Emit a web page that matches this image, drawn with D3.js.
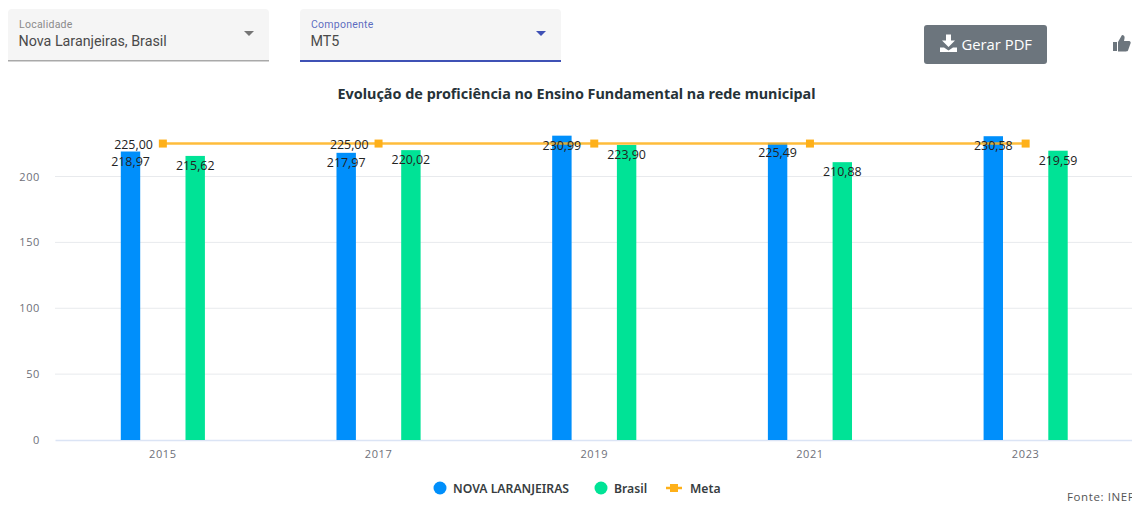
<!DOCTYPE html>
<html>
<head>
<meta charset="utf-8">
<script src="https://cdn.jsdelivr.net/npm/d3@7"></script>
<style>
  html, body { margin: 0; padding: 0; background: #fff; overflow: hidden; }
  svg { display: block; }
</style>
</head>
<body>
<div id="chart"></div>
<script>
var years = ["2015", "2017", "2019", "2021", "2023"];
var seriesNames = ["NOVA LARANJEIRAS", "Brasil"];
var novaLaranjeiras = [218.97, 217.97, 230.99, 225.49, 230.58];
var brasil = [215.62, 220.02, 223.90, 210.88, 219.59];
var meta = [225, 225, 225, 225, 225];
var metaLabelled = ["2015", "2017"];
var yTicks = [0, 50, 100, 150, 200];

var colors = { bar1: "#008ffb", bar2: "#00e396", meta: "#feb019" };
var fmt = function(v) { return v.toFixed(2).replace(".", ","); };

var width = 1132, height = 528;
var margin = { top: 0, left: 55, right: -1.5, bottom: 88 };

var svg = d3.select("#chart").append("svg")
  .attr("width", width)
  .attr("height", height);

// form controls above the chart
function selectBox(x, w, label, value, accent) {
  var g = svg.append("g").attr("transform", "translate(" + x + ",9)");
  g.append("path")
    .attr("d", "M0 52V4a4 4 0 0 1 4-4H" + (w - 4) + "a4 4 0 0 1 4 4V52Z")
    .attr("fill", "#f5f5f5");
  g.append("rect").attr("y", 51).attr("width", w).attr("height", accent ? 2 : 1.5)
    .attr("fill", accent || "#a9a9a9");
  g.append("text").attr("x", 11).attr("y", 19)
    .attr("font-family", "Roboto").attr("font-size", 10.5)
    .attr("letter-spacing", 0.25)
    .attr("fill", accent || "#8a8a8a").attr("fill-opacity", accent ? 0.85 : 1).text(label);
  g.append("text").attr("x", 10.5).attr("y", 37)
    .attr("font-family", "Roboto").attr("font-size", 14.3)
    .attr("fill", "#4a4a4a").text(value);
  g.append("path")
    .attr("d", "M" + (w - 25) + " 22h10l-5 5Z")
    .attr("fill", accent || "#757575");
}
selectBox(8, 261, "Localidade", "Nova Laranjeiras, Brasil", null);
selectBox(300, 261, "Componente", "MT5", "#3f51b5");

var btn = svg.append("g").attr("transform", "translate(924,25)");
btn.append("rect").attr("width", 123).attr("height", 39).attr("rx", 3).attr("fill", "#6c757d");
btn.append("path")
  .attr("d", "M22 9.5h5v6h4l-6.5 6.5-6.5-6.5h4ZM16 22.5h4l4.5 3 4.5-3H33V27H16Z")
  .attr("fill", "#fff");
btn.append("text").attr("x", 37.5).attr("y", 24.5)
  .attr("font-family", "Open Sans, Noto Sans").attr("font-size", 14.8)
  .attr("fill", "#fff").text("Gerar PDF");

svg.append("path")
  .attr("transform", "translate(1113,35)")
  .attr("d", "M0 7h4v9H0ZM5 7l4-7c2 0 3 1.5 2.5 3.5L11 6h5c1.5 0 2 1.5 1.5 2.5L15 15.5c-.4.8-1 .9-2 .9H5Z")
  .attr("fill", "#6c757d");

svg.append("text")
  .attr("x", 576.5).attr("y", 99)
  .attr("text-anchor", "middle")
  .attr("font-family", "Noto Sans").attr("font-size", 14.4).attr("font-weight", 700)
  .attr("fill", "#263238")
  .text("Evolução de proficiência no Ensino Fundamental na rede municipal");

// scales
var x = d3.scaleBand().domain(years).range([margin.left, width - margin.right]);
var xInner = d3.scaleBand().domain(seriesNames)
  .range([x.bandwidth() * 0.305, x.bandwidth() * 0.695])
  .paddingInner(0.7);
var y = d3.scaleLinear().domain([0, 200]).range([440, 176.5]);

// grid
svg.append("g").selectAll("line")
  .data(yTicks.slice(1))
  .join("line")
  .attr("x1", margin.left).attr("x2", width)
  .attr("y1", function(d) { return y(d); }).attr("y2", function(d) { return y(d); })
  .attr("stroke", "#e8eaed");

// axes
var yAxis = svg.append("g")
  .attr("transform", "translate(" + margin.left + ",0)")
  .call(d3.axisLeft(y).tickValues(yTicks).tickSize(0).tickPadding(15));
yAxis.select(".domain").remove();

var xAxis = svg.append("g")
  .attr("transform", "translate(0,440)")
  .call(d3.axisBottom(x).tickSize(0).tickPadding(10));
xAxis.select(".domain").attr("stroke", "#dbe4f5").attr("stroke-width", 1.5);

svg.selectAll(".tick text")
  .attr("font-family", "Open Sans, Noto Sans")
  .attr("font-size", 11)
  .attr("letter-spacing", 0.6)
  .attr("fill", "#6e7079");

// bars
var bars = [
  { name: seriesNames[0], values: novaLaranjeiras, color: colors.bar1 },
  { name: seriesNames[1], values: brasil, color: colors.bar2 }
];

bars.forEach(function(s) {
  svg.append("g").selectAll("rect")
    .data(s.values)
    .join("rect")
    .attr("x", function(d, i) { return x(years[i]) + xInner(s.name); })
    .attr("y", function(d) { return y(d); })
    .attr("width", xInner.bandwidth())
    .attr("height", function(d) { return y(0) - y(d); })
    .attr("fill", s.color);
});

// meta line
var cx = function(d, i) { return x(years[i]) + x.bandwidth() / 2; };
var line = d3.line().x(cx).y(function(d) { return y(d); });

svg.append("path")
  .datum(meta)
  .attr("d", line)
  .attr("fill", "none")
  .attr("stroke", colors.meta)
  .attr("stroke-opacity", 0.85)
  .attr("stroke-width", 2.5);

svg.append("g").selectAll("rect")
  .data(meta)
  .join("rect")
  .attr("x", function(d, i) { return cx(d, i) - 4; })
  .attr("y", function(d) { return y(d) - 4; })
  .attr("width", 8).attr("height", 8)
  .attr("fill", colors.meta);

// data labels
var labelFont = function(sel) {
  sel.attr("font-family", "Open Sans, Noto Sans")
    .attr("font-size", 12.4)
    .attr("text-anchor", "middle")
    .attr("fill", "#222");
};

bars.forEach(function(s) {
  svg.append("g").selectAll("text")
    .data(s.values)
    .join("text")
    .call(labelFont)
    .attr("x", function(d, i) { return x(years[i]) + xInner(s.name) + xInner.bandwidth() / 2; })
    .attr("y", function(d) { return y(d) + 14; })
    .text(fmt);
});

svg.append("g").selectAll("text")
  .data(meta.filter(function(d, i) { return metaLabelled.indexOf(years[i]) > -1; }))
  .join("text")
  .call(labelFont)
  .attr("text-anchor", "end")
  .attr("x", function(d, i) { return cx(d, i) - 10; })
  .attr("y", function(d) { return y(d) + 5; })
  .text(fmt);

// legend
var legend = svg.append("g")
  .attr("font-family", "Noto Sans")
  .attr("font-size", 12.2)
  .attr("font-weight", 600)
  .attr("fill", "#373d3f");

legend.append("circle").attr("cx", 440).attr("cy", 488).attr("r", 6.5).attr("fill", colors.bar1);
legend.append("text").attr("x", 453).attr("y", 493).text(seriesNames[0]);
legend.append("circle").attr("cx", 601).attr("cy", 488).attr("r", 6.5).attr("fill", colors.bar2);
legend.append("text").attr("x", 614).attr("y", 493).text(seriesNames[1]);
legend.append("line").attr("x1", 666).attr("x2", 682).attr("y1", 488).attr("y2", 488)
  .attr("stroke", colors.meta).attr("stroke-width", 2.5);
legend.append("rect").attr("x", 670).attr("y", 484).attr("width", 8).attr("height", 8).attr("fill", colors.meta);
legend.append("text").attr("x", 690).attr("y", 493).text("Meta");

svg.append("text")
  .attr("x", 1067).attr("y", 501)
  .attr("font-family", "Open Sans, Noto Sans")
  .attr("font-size", 11.5)
  .attr("letter-spacing", 0.6)
  .attr("fill", "#555")
  .text("Fonte: INEP");
</script>
</body>
</html>
